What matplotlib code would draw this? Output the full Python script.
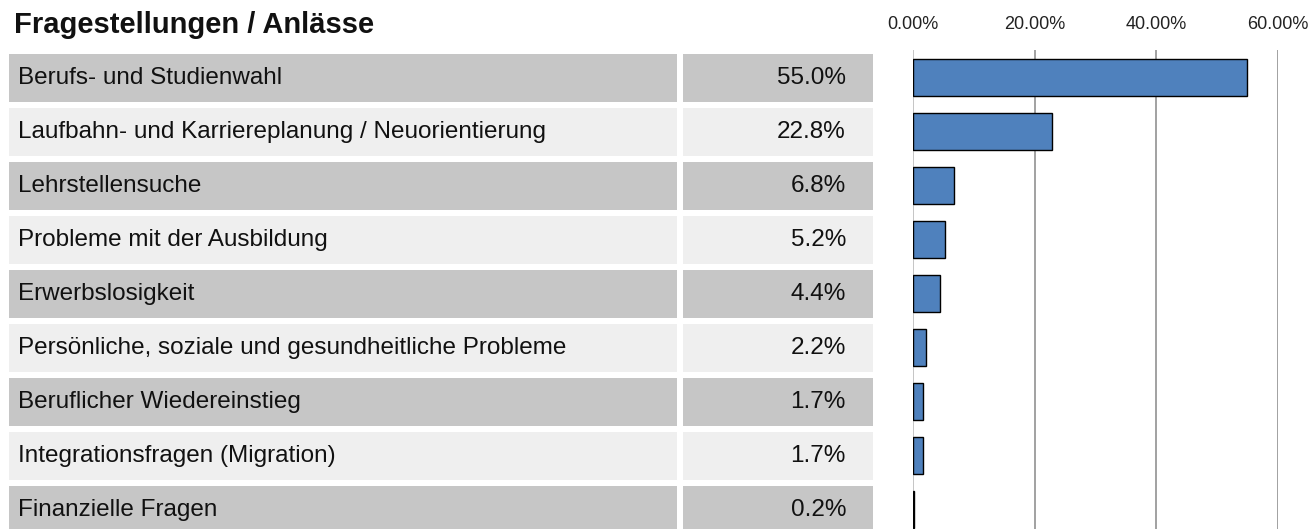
import matplotlib.pyplot as plt
import numpy as np

# Daten
kategorien = ['Berufs- und Studienwahl',
              'Laufbahn- und Karriereplanung / Neuorientierung',
              'Lehrstellensuche',
              'Probleme mit der Ausbildung',
              'Erwerbslosigkeit',
              'Persönliche, soziale und gesundheitliche Probleme',
              'Beruflicher Wiedereinstieg',
              'Integrationsfragen (Migration)',
              'Finanzielle Fragen']
anteile = [55.0, 22.8, 6.8, 5.2, 4.4, 2.2, 1.7, 1.7, 0.2]
ticks = [0, 20, 40, 60]
tick_labels = ['0.00%', '20.00%', '40.00%', '60.00%']

W, H = 1310, 529
fig = plt.figure(figsize=(W / 100, H / 100), dpi=100)

n = len(kategorien)
y = np.arange(n)
pitch = 54.0
top_px = 54
ylim_tab = (-0.444 + (H - top_px) / pitch, -0.444)

# Tabelle links (x in Pixel)
ax_t = fig.add_axes([0, 0, 1, (H - top_px) / H])
ax_t.set_xlim(0, W)
ax_t.set_ylim(*ylim_tab)
ax_t.axis('off')
farben = ['#C6C6C6' if i % 2 == 0 else '#EFEFEF' for i in range(n)]
ax_t.barh(y, 668, left=9, height=48 / pitch, color=farben, linewidth=0)
ax_t.barh(y, 190, left=683, height=48 / pitch, color=farben, linewidth=0)
for i in range(n):
    ax_t.text(18, y[i], kategorien[i], fontsize=17.5, family='Liberation Sans',
              va='center', ha='left', color='#111111')
    ax_t.text(846, y[i], f'{anteile[i]:.1f}%', fontsize=17.5, family='Liberation Sans',
              va='center', ha='right', color='#111111')

fig.text(14 / W, 1 - 25 / H, 'Fragestellungen / Anlässe', fontsize=21, fontweight='bold',
         family='Liberation Sans', va='center', ha='left', color='#111111')

# Balkendiagramm rechts
gtop = 50
ax = fig.add_axes([913 / W, 0, (1277.7 - 913) / W, (H - gtop) / H])
ax.set_xlim(0, 60)
ax.set_ylim(ylim_tab[0], -0.444 - (top_px - gtop) / pitch)
ax.barh(y, anteile, height=37 / pitch, color='#4F81BD', edgecolor='black', linewidth=1, zorder=3)
for t in ticks:
    ax.axvline(t, color='#bbbbbb' if t == 0 else '#919191', linewidth=1.2, zorder=1)
for s in ax.spines.values():
    s.set_visible(False)
ax.set_yticks([])
ax.set_xticks(ticks)
ax.set_xticklabels(tick_labels, family=['Liberation Sans Narrow', 'Liberation Sans'], fontsize=13)
ax.xaxis.tick_top()
ax.tick_params(axis='x', length=0, pad=12, colors='#222222')

fig.savefig('out.png', dpi=100)
